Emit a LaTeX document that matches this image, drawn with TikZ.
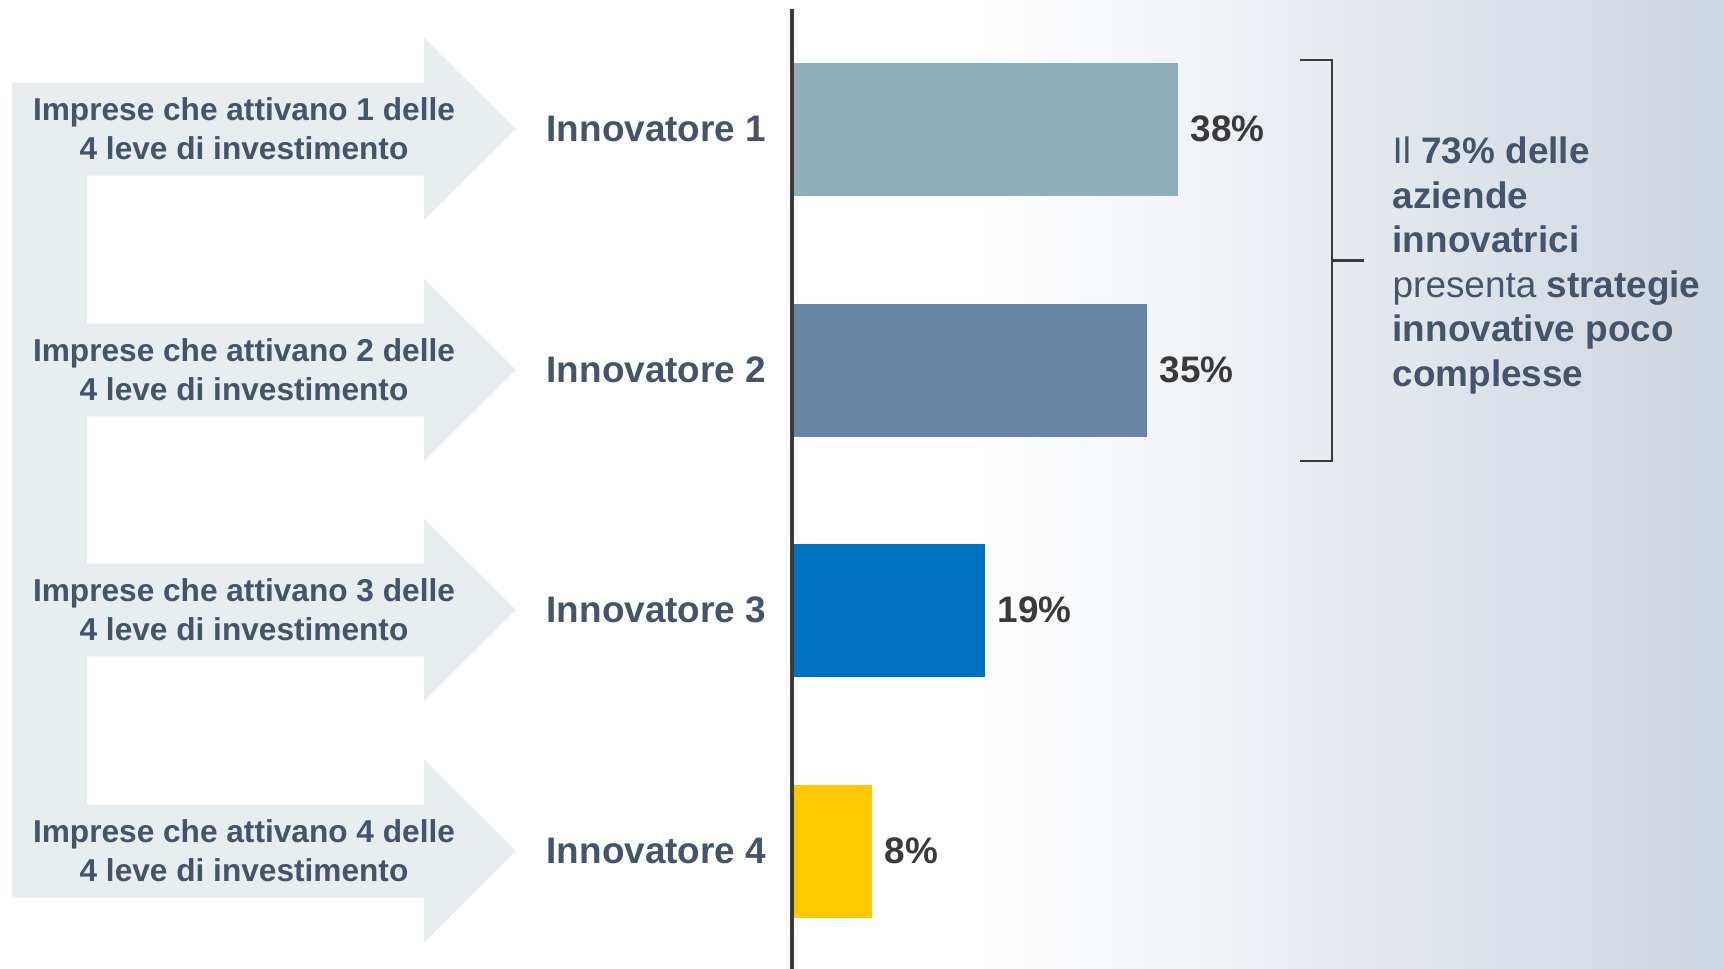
\documentclass[tikz,border=0pt]{standalone}
\usepackage{fontspec}
\setmainfont{Liberation Sans}
\usetikzlibrary{positioning}
\definecolor{leve}{HTML}{E8EDF0}
\definecolor{slate}{HTML}{44546A}
\definecolor{darkgray}{HTML}{3A3A3A}
\definecolor{inn1}{HTML}{8FAFBA}
\definecolor{inn2}{HTML}{6786A5}
\definecolor{inn3}{HTML}{0070C0}
\definecolor{inn4}{HTML}{FFC800}
\definecolor{bgright}{HTML}{CDD5E0}
\tikzset{
  leva/.style={align=center, inner sep=0pt, text=slate, font=\fontsize{9}{11.1}\selectfont\bfseries},
  innlabel/.style={anchor=west, inner sep=0pt, text=slate, font=\fontsize{10.5}{12}\selectfont\bfseries},
  bar/.style={anchor=west, inner sep=0pt, outer sep=0pt, minimum height=13.3mm},
  pct/.style={inner sep=0pt, text=darkgray, font=\fontsize{10.5}{12}\selectfont\bfseries},
  note/.style={anchor=north west, align=left, inner sep=0pt, text=slate, font=\fontsize{10.5}{12.7}\selectfont}
}
\begin{document}
\begin{tikzpicture}[x=0.1mm, y=-0.1mm]
      \useasboundingbox (0,0) rectangle (1724,969);
      \fill[white] (0,0) rectangle (1724,969);
      \shade[left color=white, right color=bgright] (980,0) rectangle (1724,969);
      \fill[leve] (12,82.5) -- (424,82.5) -- (424,37.5) -- (516,129) -- (424,220.5) -- (424,175.5)
        -- (87,175.5) -- (87,323.5) -- (424,323.5) -- (424,278.5) -- (516,370) -- (424,461.5) -- (424,416.5)
        -- (87,416.5) -- (87,563.5) -- (424,563.5) -- (424,518.5) -- (516,610) -- (424,701.5) -- (424,656.5)
        -- (87,656.5) -- (87,804.5) -- (424,804.5) -- (424,759.5) -- (516,851) -- (424,942.5) -- (424,897.5)
        -- (12,897.5) -- cycle;
      \node[leva] (l1) at (244,129) {Imprese che attivano 1 delle\\4 leve di investimento};
      \node[leva] (l2) at (244,370) {Imprese che attivano 2 delle\\4 leve di investimento};
      \node[leva] (l3) at (244,610) {Imprese che attivano 3 delle\\4 leve di investimento};
      \node[leva] (l4) at (244,851) {Imprese che attivano 4 delle\\4 leve di investimento};
      \node[innlabel] (i1) at (546,129) {Innovatore 1};
      \node[innlabel] (i2) at (546,370) {Innovatore 2};
      \node[innlabel] (i3) at (546,610) {Innovatore 3};
      \node[innlabel] (i4) at (546,851) {Innovatore 4};
      \node[bar, fill=inn1, minimum width=38.6mm] (b1) at (792,129) {};
      \node[bar, fill=inn2, minimum width=35.5mm] (b2) at (792,370) {};
      \node[bar, fill=inn3, minimum width=19.3mm] (b3) at (792,610) {};
      \node[bar, fill=inn4, minimum width=8mm] (b4) at (792,851) {};
      \node[pct, right=1.2mm of b1] (p1) {38\%};
      \node[pct, right=1.2mm of b2] (p2) {35\%};
      \node[pct, right=1.2mm of b3] (p3) {19\%};
      \node[pct, right=1.2mm of b4] (p4) {8\%};
      \draw[darkgray, line width=1.4pt] (792,9) -- (792,969);
      \coordinate (top) at (1300,60);
      \coordinate (bot) at (1300,461);
      \coordinate (mid) at (1332,260.5);
      \coordinate (tick) at (1364,260.5);
      \draw[darkgray, line width=0.6pt] (top) -- (1332,60) -- (1332,461) -- (bot);
      \draw[darkgray, line width=0.6pt] (mid) -- (tick);
      \node[note] (n) at (1392,136) {Il \textbf{73\% delle}\\\textbf{aziende}\\\textbf{innovatrici}\\presenta \textbf{strategie}\\\textbf{innovative poco}\\\textbf{complesse}};
    \end{tikzpicture}
\end{document}
